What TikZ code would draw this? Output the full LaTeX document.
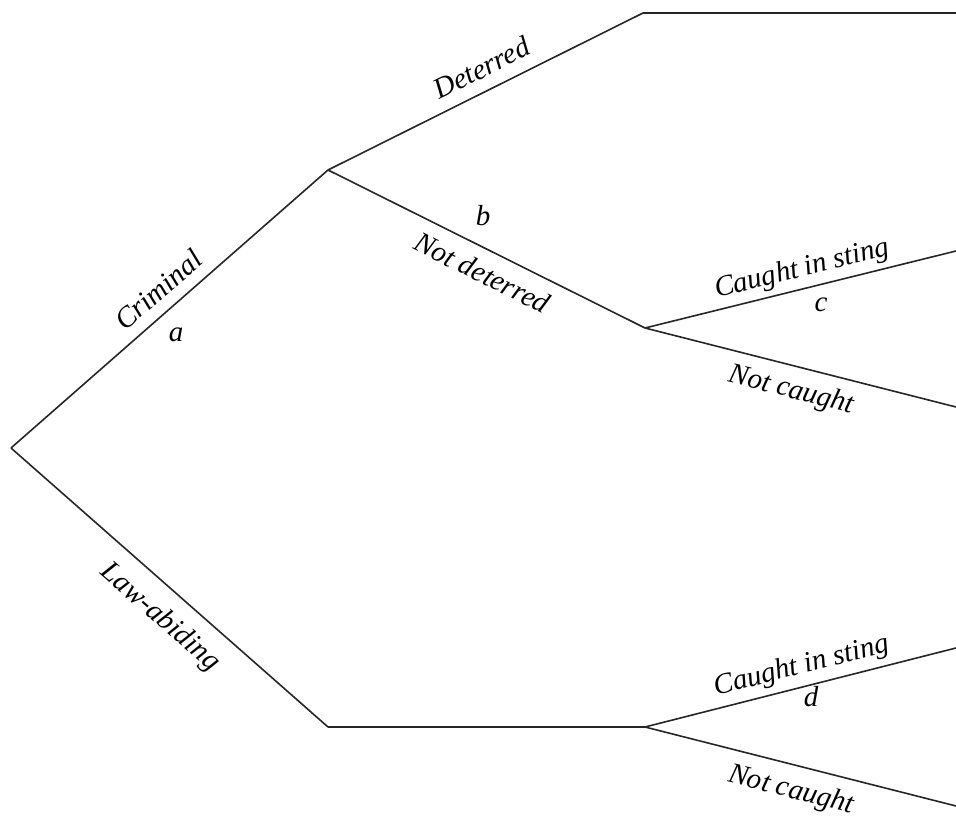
\documentclass[tikz,border=0pt]{standalone}
\usepackage{fontspec}
\setmainfont{Liberation Serif}
\begin{document}
\begin{tikzpicture}[x=1pt,y=1pt,
  branch/.style={line width=1.6pt, draw=black!85},
  lbl/.style={font=\fontsize{29}{32}\selectfont\itshape, sloped},
  letter/.style={font=\fontsize{29}{32}\selectfont\itshape, inner sep=0pt}]
\useasboundingbox (0,0) rectangle (956,825);
% points
\coordinate (root) at (11,377);
\coordinate (crim) at (328,655);
\coordinate (det)  at (643,812);
\coordinate (detE) at (956,812);
\coordinate (nd)   at (645,497);
\coordinate (cc)   at (956,574);
\coordinate (nc)   at (956,418);
\coordinate (law)  at (328,98);
\coordinate (lawN) at (645,98);
\coordinate (cd)   at (956,177);
\coordinate (ncd)  at (956,19);
% branches
\draw[branch] (root) -- node[lbl, pos=0.51, above, inner sep=11pt] (tCrim) {Criminal} (crim);
\draw[branch] (crim) -- node[lbl, pos=0.52, above, inner sep=12pt] (tDet) {Deterred} (det);
\draw[branch] (det) -- (detE);
\draw[branch] (crim) -- node[lbl, pos=0.52, below, inner sep=12pt] (tND) {Not deterred} (nd);
\draw[branch] (nd) -- node[lbl, pos=0.52, above, inner sep=5pt] (tCis1) {Caught in sting} (cc);
\draw[branch] (nd) -- node[lbl, pos=0.49, below, inner sep=11pt] (tNc1) {Not caught} (nc);
\draw[branch] (root) -- node[lbl, pos=0.53, below, inner sep=15pt] (tLaw) {Law-abiding} (law);
\draw[branch] (law) -- (lawN);
\draw[branch] (lawN) -- node[lbl, pos=0.52, above, inner sep=6pt] (tCis2) {Caught in sting} (cd);
\draw[branch] (lawN) -- node[lbl, pos=0.49, below, inner sep=12pt] (tNc2) {Not caught} (ncd);
% letters
\node[letter] (la) at (176,490) {a};
\node[letter] (lb) at (483,609) {b};
\node[letter] (lc) at (821,520) {c};
\node[letter] (ld) at (811,128) {d};
\end{tikzpicture}
\end{document}
